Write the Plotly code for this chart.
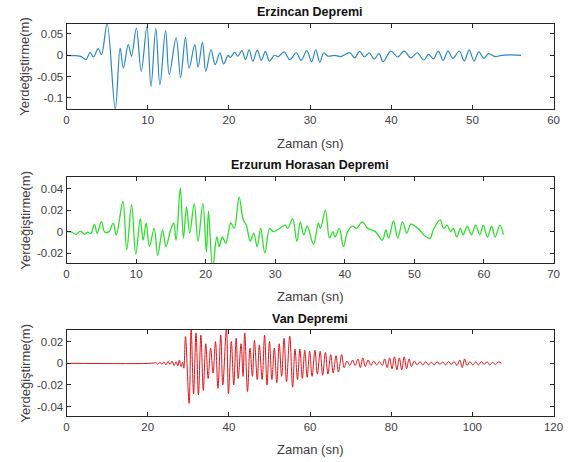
import plotly.graph_objects as go

# ---------------- data (extrema of each record) ----------------
erzincan_t = [0, 1.2, 1.8, 2.4, 2.9, 3.3, 3.9, 4.3, 5.0, 6.0, 6.6, 7.0, 7.6, 8.0, 8.6, 9.2, 9.9,
              10.4, 11.0, 11.5, 12.2, 12.65, 13.5, 14.05, 14.65, 15.1, 15.8, 16.2, 16.75, 17.15,
              17.8, 18.3, 18.9, 19.35, 19.9, 20.2, 20.7, 21.1, 21.6, 22.05, 22.5, 22.95, 23.5,
              24.0, 24.5, 25.0, 25.6, 26.1, 26.8, 27.5, 28.3, 28.9, 29.6, 30.2, 30.7, 31.2, 31.7,
              32.2, 33.0, 33.8, 34.9, 35.5, 36.1, 36.7, 37.3, 37.9, 38.5, 39.0, 39.95, 40.8, 41.6,
              42.4, 43.2, 44.0, 44.6, 45.2, 45.8, 46.4, 47.0, 47.6, 48.4, 49.0, 49.6, 50.2, 50.8,
              51.4, 52.0, 52.8, 53.6, 54.8, 56.0]
erzincan_v = [0, -0.001, -0.003, -0.010, 0.007, -0.004, 0.0155, 0.0015, 0.0735, -0.126, 0.017,
              -0.030, 0.025, -0.002, 0.064, -0.0375, 0.066, -0.073, 0.063, -0.069, 0.058, -0.045,
              0.041, -0.052, 0.042, -0.030, 0.025, -0.028, 0.031, -0.0375, 0.013, -0.022, 0.0055,
              -0.020, 0.000, -0.005, 0.007, -0.002, 0.011, -0.010, 0.013, -0.014, 0.012, -0.012,
              0.009, -0.014, 0.000, -0.003, 0.008, -0.010, 0.006, -0.012, 0.011, -0.015, 0.013,
              -0.016, 0.006, -0.002, 0.000, -0.003, 0.006, -0.006, 0.009, -0.004, 0.006, -0.009,
              0.004, -0.015, 0.010, -0.004, 0.010, -0.006, 0.006, -0.011, 0.002, -0.008, 0.010,
              -0.012, 0.010, -0.007, 0.010, -0.013, 0.012, -0.013, 0.008, -0.007, 0.004, -0.003,
              0.000, 0.001, 0.000]

horasan_t = [0, 0.7, 1.4, 2.0, 2.6, 3.0, 3.5, 4.0, 4.4, 5.0, 5.5, 6.1, 6.7, 7.15, 8.1, 8.65, 9.35,
             9.95, 10.6, 11.0, 11.45, 11.9, 12.6, 13.1, 13.8, 14.3, 14.95, 15.4, 15.75, 16.35,
             16.8, 17.25, 17.7, 18.35, 18.9, 19.6, 20.1, 20.4, 21.0, 21.6, 21.95, 22.4, 22.9,
             23.6, 24.1, 24.8, 25.4, 25.85, 26.4, 26.9, 27.4, 27.9, 28.5, 29.2, 29.7, 30.4, 31.4,
             31.8, 32.5, 33.1, 33.6, 34.1, 34.6, 35.5, 36.2, 36.5, 37.2, 37.8, 38.3, 38.6, 39.2,
             39.8, 40.4, 41.1, 41.7, 42.5, 43.3, 44.4, 45.4, 45.9, 46.3, 47.0, 47.6, 48.3, 48.9,
             49.5, 50.5, 51.7, 52.3, 52.7, 53.7, 54.2, 54.7, 55.2, 55.6, 56.1, 56.6, 57.0, 57.6,
             58.2, 58.8, 59.4, 59.9, 60.5, 61.1, 61.6, 62.3, 62.8]
horasan_v = [0, -0.0005, -0.0025, 0.0005, -0.0025, -0.0005, -0.0015, 0.0068, -0.0016, 0.0093,
             -0.0006, 0.000, 0.0078, -0.003, 0.028, -0.017, 0.025, -0.021, 0.012, -0.008, 0.008,
             -0.014, 0.003, -0.022, 0.0015, -0.014, 0.0015, 0.008, -0.008, 0.041, -0.006, 0.023,
             -0.0015, 0.026, -0.009, 0.026, -0.019, 0.019, -0.034, -0.005, -0.014, -0.005, -0.011,
             0.008, 0.003, 0.032, 0.011, 0.006, -0.009, -0.0015, -0.014, 0.003, -0.020, 0.003,
             0.000, 0.002, 0.006, 0.003, 0.012, -0.009, 0.009, -0.003, 0.005, -0.012, 0.008,
             0.003, 0.020, -0.006, 0.000, -0.005, 0.003, -0.014, 0.000, 0.005, 0.003, 0.009,
             0.003, 0.000, -0.008, 0.0015, -0.006, 0.010, -0.006, 0.009, -0.0015, 0.007, 0.003,
             -0.005, -0.006, 0.0015, 0.011, 0.003, 0.006, 0.000, 0.003, -0.005, 0.003, -0.003,
             0.005, -0.003, 0.006, -0.003, 0.006, -0.005, 0.005, -0.005, 0.006, -0.003]

van_t = [0, 21.0, 22.0, 22.5, 23.0, 23.5, 24.0, 24.5, 25.0, 25.5, 26.0, 26.5, 27.0, 27.4, 27.8,
         28.2, 28.6, 28.9, 29.3, 30.2, 30.7, 31.3, 31.9, 32.5, 33.1, 33.7, 34.3, 34.9, 35.5,
         36.1, 36.7, 37.3, 38.0, 38.5, 39.4, 39.9, 40.6, 41.2, 41.8, 42.3, 43.0, 43.5, 43.9,
         44.6, 45.2, 45.8, 46.3, 47.0, 47.5, 48.2, 48.8, 49.4, 50.0, 50.6, 51.2, 51.8, 52.4,
         53.0, 53.6, 54.2, 55.0, 55.7, 56.3, 56.9, 57.5, 58.1, 58.7, 59.3, 59.9, 60.5, 61.2,
         61.8, 62.5, 63.1, 63.8, 64.4, 65.1, 65.7, 66.4, 67.0, 67.8, 68.4, 69.1, 69.8, 70.5,
         71.1, 71.8, 72.4, 73.0, 73.6, 74.3, 75.0, 75.7, 76.4, 77.1, 77.8, 78.4, 79.0, 79.6,
         80.2, 80.8, 81.4, 82.0, 82.6, 83.2, 83.8, 84.4, 85.0, 85.7, 86.4, 87.1, 87.8, 88.5,
         89.2, 89.9, 90.6, 91.3, 92.0, 92.7, 93.4, 94.1, 94.8, 95.5, 96.2, 96.9, 97.5, 98.1,
         98.7, 99.4, 100.1, 100.8, 101.5, 102.2, 102.9, 103.6, 104.3, 105.0, 105.7, 106.4, 107.2]
van_v = [0, 0, 0.0005, -0.0008, 0.001, -0.001, 0.0012, -0.0015, 0.0018, -0.001, 0.002, -0.002,
         0.0015, -0.0025, 0.003, -0.003, 0.001, -0.0045, 0.0246, -0.037, 0.031, -0.028, 0.028,
         -0.029, 0.026, -0.025, 0.018, -0.014, 0.014, -0.009, 0.020, -0.023, 0.026, -0.020,
         0.032, -0.028, 0.020, -0.020, 0.023, -0.014, 0.018, -0.012, 0.028, -0.026, 0.014,
         -0.012, 0.021, -0.015, 0.017, -0.015, 0.026, -0.020, 0.020, -0.015, 0.014, -0.018,
         0.018, -0.012, 0.023, -0.017, 0.025, -0.022, 0.013, -0.015, 0.013, -0.014, 0.012,
         -0.013, 0.011, -0.012, 0.012, -0.010, 0.011, -0.011, 0.010, -0.010, 0.008, -0.009,
         0.007, -0.008, 0.008, -0.004, 0.002, -0.002, 0.003, -0.002, 0.004, -0.004, 0.005,
         -0.003, 0.003, -0.002, 0.002, -0.0015, 0.0015, -0.002, 0.004, -0.004, 0.005, -0.005,
         0.006, -0.006, 0.005, -0.006, 0.006, -0.005, 0.004, -0.003, 0.002, -0.0015, 0.0015,
         -0.0015, 0.0015, -0.0015, 0.001, -0.0015, 0.0015, -0.001, 0.0012, -0.0015, 0.0015,
         -0.001, 0.0015, -0.002, 0.003, -0.004, 0.004, -0.002, 0.0015, -0.0015, 0.0012,
         -0.0015, 0.0015, -0.001, 0.0015, -0.0015, 0.001, -0.0012, 0.0012, 0.0]

titles = ["Erzincan Depremi", "Erzurum Horasan Depremi", "Van Depremi"]
xlabel = "Zaman (sn)"
ylabel = "Yerdeğiştirme(m)"

x1_ticks = [0, 10, 20, 30, 40, 50, 60]
y1_ticks = [-0.1, -0.05, 0, 0.05]
y1_text = ["-0.1", "-0.05", "0", "0.05"]
x2_ticks = [0, 10, 20, 30, 40, 50, 60, 70]
y2_ticks = [-0.02, 0, 0.02, 0.04]
y2_text = ["-0.02", "0", "0.02", "0.04"]
x3_ticks = [0, 20, 40, 60, 80, 100, 120]
y3_ticks = [-0.04, -0.02, 0, 0.02]
y3_text = ["-0.04", "-0.02", "0", "0.02"]

# ---------------- figure ----------------
W, H = 587, 462
FONT = "Liberation Sans, Arial, Helvetica, sans-serif"
AX = "#262626"
TICKC = "#404040"

fig = go.Figure()
fig.add_trace(go.Scatter(x=erzincan_t, y=erzincan_v, mode="lines", line=dict(color="#2a88c2", width=1.2, shape="spline", smoothing=1.0), xaxis="x", yaxis="y", showlegend=False))
fig.add_trace(go.Scatter(x=horasan_t, y=horasan_v, mode="lines", line=dict(color="#2ede2e", width=1.3, shape="spline", smoothing=1.0), xaxis="x2", yaxis="y2", showlegend=False))
fig.add_trace(go.Scatter(x=van_t, y=van_v, mode="lines", line=dict(color="#e0141a", width=1.0, shape="spline", smoothing=1.0), xaxis="x3", yaxis="y3", showlegend=False))

xdom = [65 / W, 563 / W]
panels = [(23.5, 109), (177, 263), (330, 416)]
ydoms = [[1 - b / H, 1 - t / H] for t, b in panels]


def axstyle(**kw):
    d = dict(showline=True, linecolor=AX, linewidth=1, mirror="ticks", ticks="inside", ticklen=4,
             tickcolor=AX, tickwidth=1, showgrid=False, zeroline=False,
             tickfont=dict(family=FONT, size=11.5, color=TICKC))
    d.update(kw)
    return d


fig.update_layout(
    width=W, height=H, margin=dict(l=0, r=0, t=0, b=0),
    paper_bgcolor="white", plot_bgcolor="white",
    xaxis=axstyle(domain=xdom, anchor="y", range=[0, 60], tickvals=x1_ticks),
    yaxis=axstyle(domain=ydoms[0], anchor="x", range=[-0.126, 0.0746], tickvals=y1_ticks, ticktext=y1_text),
    xaxis2=axstyle(domain=xdom, anchor="y2", range=[0, 70], tickvals=x2_ticks),
    yaxis2=axstyle(domain=ydoms[1], anchor="x2", range=[-0.0292, 0.0508], tickvals=y2_ticks, ticktext=y2_text),
    xaxis3=axstyle(domain=xdom, anchor="y3", range=[0, 120], tickvals=x3_ticks),
    yaxis3=axstyle(domain=ydoms[2], anchor="x3", range=[-0.0486, 0.0307], tickvals=y3_ticks, ticktext=y3_text),
)

title_y = [12.5, 165, 318.5]
xlab_y = [143, 296, 449.5]
xc = (65 + 563) / 2 / W
ann = []
for i in range(3):
    t, b = panels[i]
    ann.append(dict(text="<b>" + titles[i] + "</b>", x=xc, y=1 - title_y[i] / H, xref="paper", yref="paper",
                    showarrow=False, xanchor="center", yanchor="middle",
                    font=dict(family=FONT, size=12.5, color="#111111")))
    ann.append(dict(text=xlabel, x=xc, y=1 - xlab_y[i] / H, xref="paper", yref="paper",
                    showarrow=False, xanchor="center", yanchor="middle",
                    font=dict(family=FONT, size=13, color=TICKC)))
    ann.append(dict(text=ylabel, x=22 / W, y=1 - ((t + b) / 2) / H, xref="paper", yref="paper",
                    showarrow=False, xanchor="center", yanchor="middle", textangle=-90,
                    font=dict(family=FONT, size=13, color=TICKC)))
fig.update_layout(annotations=ann)

fig.write_html("out.html", config={"displayModeBar": False},
               post_script="document.documentElement.style.margin='0';document.body.style.margin='0';document.body.style.overflow='hidden';")
